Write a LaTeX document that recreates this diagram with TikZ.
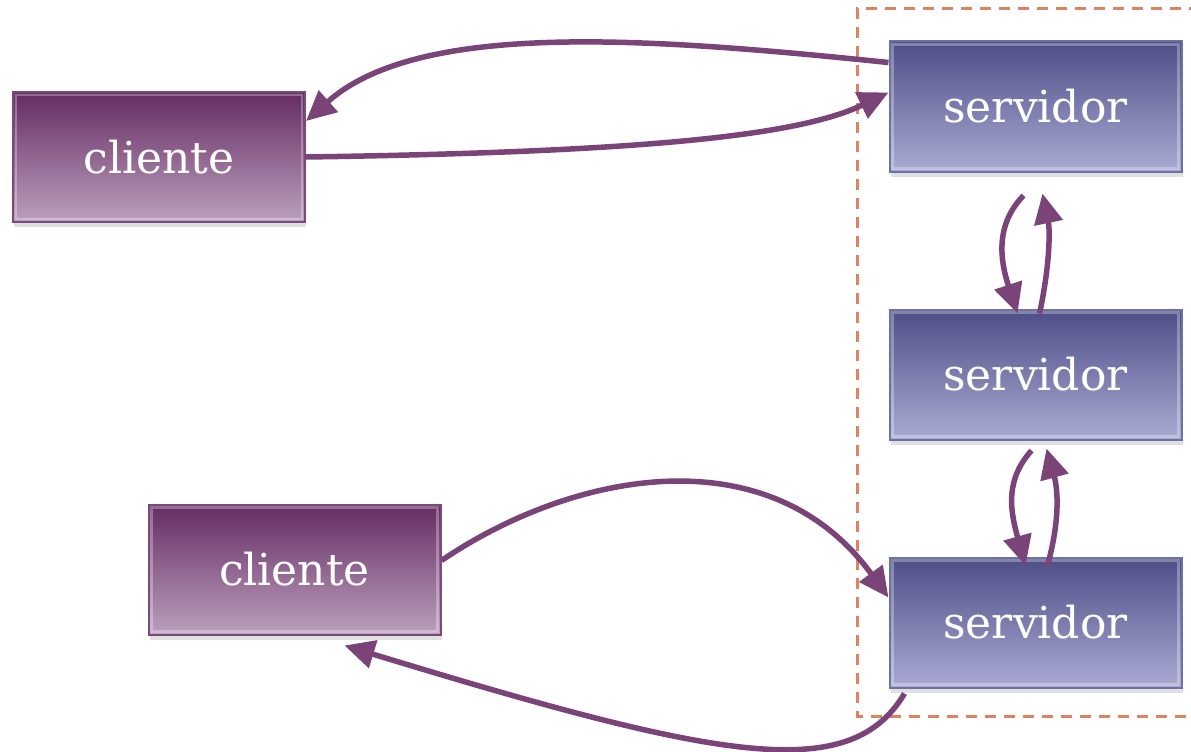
\documentclass[tikz,border=0pt]{standalone}
\usepackage{fontspec}
\setmainfont{DejaVu Serif}
\usetikzlibrary{arrows.meta,shadows,calc}
\definecolor{cliTop}{HTML}{662C64}
\definecolor{cliBot}{HTML}{BBA0BC}
\definecolor{cliEdge}{HTML}{7B4A7B}
\definecolor{srvTop}{HTML}{4D4E86}
\definecolor{srvBot}{HTML}{AAAAD4}
\definecolor{srvEdge}{HTML}{6E71A8}
\definecolor{link}{HTML}{7A4478}
\definecolor{zone}{HTML}{DE8262}
\tikzset{
  box/.style={minimum width=292pt, minimum height=130pt, inner sep=0pt,
    line width=2pt, text=white, font=\fontsize{44}{50}\selectfont,
    drop shadow={shadow xshift=1pt, shadow yshift=-5pt, opacity=0.12, fill=black},
    path picture={\draw[white, opacity=0.3, line width=2.5pt]
      ([shift={(3pt,-3pt)}]path picture bounding box.north west) rectangle
      ([shift={(-3pt,3pt)}]path picture bounding box.south east);}},
  clientbox/.style={box, draw=cliEdge, top color=cliTop, bottom color=cliBot},
  serverbox/.style={box, draw=srvEdge, top color=srvTop, bottom color=srvBot},
  flow/.style={draw=link, line width=5.5pt, -{Triangle[length=30pt, width=28pt]}},
}
\begin{document}
\begin{tikzpicture}[x=1pt,y=-1pt]
\useasboundingbox (0,0) rectangle (1191,752);
% server zone
\draw[zone, line width=3pt, dash pattern=on 11pt off 8pt] (1200,9) -- (857,9) -- (857,716) -- (1200,716);
% nodes
\node[clientbox] (c1) at (159,157) {cliente};
\node[clientbox] (c2) at (294.5,569.5) {cliente};
\node[serverbox] (s1) at (1035.5,106.5) {servidor};
\node[serverbox] (s2) at (1035.5,374.5) {servidor};
\node[serverbox] (s3) at (1035.5,622.5) {servidor};
% helper points
\coordinate (s1a) at ([yshift=-22pt]s1.north west);
\coordinate (s1b) at ([yshift=-52pt]s1.north west);
\coordinate (c1a) at ([yshift=-30pt]c1.north east);
\coordinate (s3a) at ([yshift=-41pt]s3.north west);
\coordinate (s3b) at ([xshift=16pt,yshift=-5pt]s3.south west);
\coordinate (c2a) at ([xshift=197pt,yshift=-10pt]c2.south west);
% client-server links
\draw[flow] (s1a) .. controls (650,38) and (420,20) .. (c1a);
\draw[flow] (c1.east) .. controls (650,152) and (800,135) .. (s1b);
\draw[flow] ([yshift=9pt]c2.east) .. controls (575,470) and (770,435) .. (s3a);
\draw[flow] (s3b) .. controls (850,785) and (720,760) .. (c2a);
% server-server links
\draw[flow] ([xshift=-12pt,yshift=-23pt]s1.south) .. controls (995,225) and (1000,260) .. ([xshift=-18pt,yshift=-5pt]s2.north);
\draw[flow] ([xshift=4pt,yshift=-5pt]s2.north) .. controls (1050,265) and (1050,230) .. ([xshift=7pt,yshift=-21pt]s1.south);
\draw[flow] ([xshift=-4pt,yshift=-10pt]s2.south) .. controls (1005,480) and (1010,510) .. ([xshift=-10pt,yshift=-9pt]s3.north);
\draw[flow] ([xshift=12pt,yshift=-9pt]s3.north) .. controls (1060,520) and (1058,490) .. ([xshift=11pt,yshift=-8pt]s2.south);
\end{tikzpicture}
\end{document}
